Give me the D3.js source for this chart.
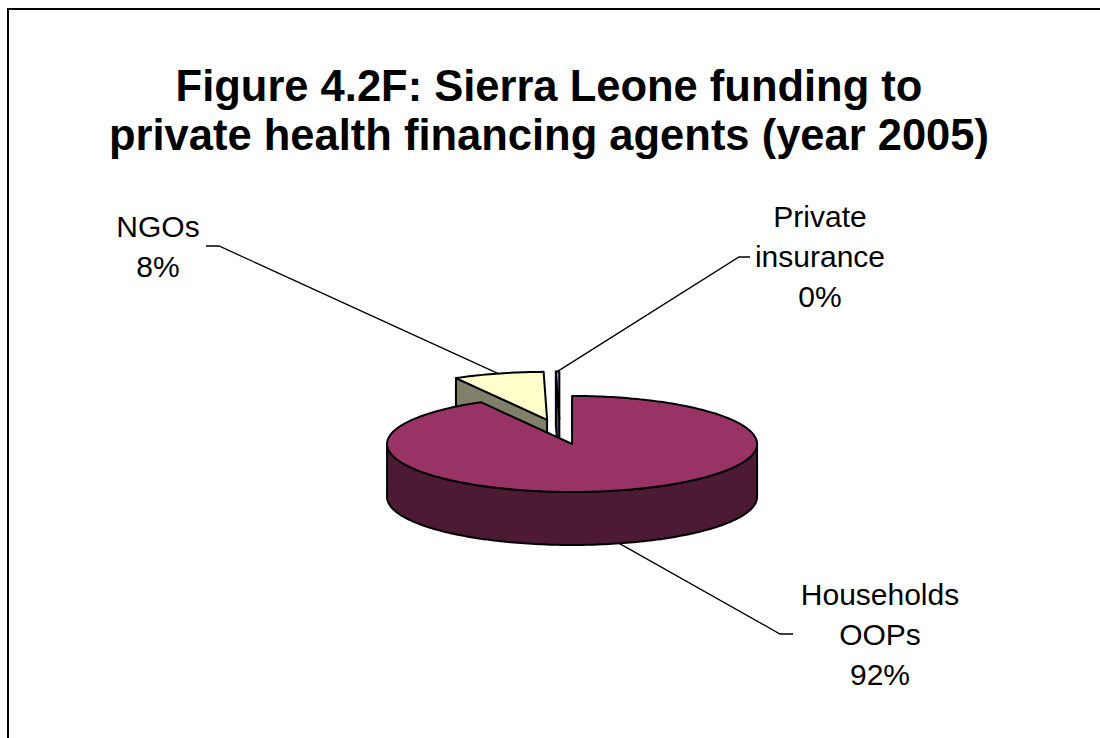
<!DOCTYPE html>
<html>
<head>
<meta charset="utf-8">
<script src="https://cdn.jsdelivr.net/npm/d3@7/dist/d3.min.js"></script>
<style>
  body { margin: 0; background: #ffffff; }
  svg { display: block; }
</style>
</head>
<body>
<svg id="chart" width="1100" height="738"></svg>
<script>
// ---- data ----
const titleLines = ["Figure 4.2F: Sierra Leone funding to", "private health financing agents (year 2005)"];
const categories = ["Households OOPs", "NGOs", "Private insurance"];
const labelLines = [["Households", "OOPs"], ["NGOs"], ["Private", "insurance"]];
const shares = [91.8, 7.9, 0.3];

// ---- styles ----
const topColors = ["#993366", "#FFFFCC", "#9999FF"];
const sideColors = ["#4D1A33", "#80806A", "#4D4D80"];
const fontFamily = "'Liberation Sans', Arial, Helvetica, sans-serif";

// ---- label layout: text centre, first baseline, leader elbow ----
const labelLayout = [
  { x: 880, y: 605, elbow: [[780, 634], [793, 634]] },
  { x: 158, y: 237, elbow: [[219, 246], [206, 246]] },
  { x: 820, y: 227, elbow: [[739, 257], [750, 257]] }
];

const svg = d3.select("#chart");

// outer chart frame (runs off the right and bottom edges)
svg.append("rect")
  .attr("x", 8).attr("y", 9)
  .attr("width", 1200).attr("height", 800)
  .attr("fill", "none").attr("stroke", "#000").attr("stroke-width", 2);

// title
svg.append("g").selectAll("text")
  .data(titleLines).join("text")
  .attr("x", 549)
  .attr("y", (d, i) => 101 + i * 49)
  .attr("text-anchor", "middle")
  .attr("font-family", fontFamily)
  .attr("font-weight", "bold")
  .attr("font-size", 43.5)
  .attr("fill", "#000")
  .text(d => d);

// ---- 3D pie geometry ----
const cx = 559.8, cy = 431.9, rx = 185, ry = 48, depth = 53, explode = 0.26;
const total = d3.sum(shares);
const pct = d3.format(".0%");

const arcs = d3.pie().sort(null).startAngle(0).endAngle(2 * Math.PI).value(d => d)(shares);

arcs.forEach(a => {
  a.mid = (a.startAngle + a.endAngle) / 2;
  a.off = [explode * rx * Math.sin(a.mid), -explode * ry * Math.cos(a.mid)];
});

function pt(a, angle, r, z) {
  return [cx + a.off[0] + r * rx * Math.sin(angle), cy + a.off[1] - r * ry * Math.cos(angle) + z];
}
function rim(a, from, to, z) {
  const n = Math.max(2, Math.ceil(Math.abs(to - from) / 0.02));
  return d3.range(n + 1).map(i => pt(a, from + (to - from) * i / n, 1, z));
}
const line = d3.line();

const pieG = svg.append("g")
  .attr("stroke", "#000").attr("stroke-width", 2).attr("stroke-linejoin", "round");

// paint from back to front
const order = arcs.slice().sort((p, q) => Math.cos(q.mid) - Math.cos(p.mid));

order.forEach(a => {
  const i = a.index;
  // radial cut faces
  [[a.startAngle, a.startAngle - Math.PI / 2], [a.endAngle, a.endAngle + Math.PI / 2]].forEach(([ang, normal]) => {
    if (Math.cos(normal) < -1e-6) {
      const quad = [pt(a, ang, 0, 0), pt(a, ang, 1, 0), pt(a, ang, 1, depth), pt(a, ang, 0, depth)];
      pieG.append("path").attr("d", line(quad) + "Z").attr("fill", sideColors[i]);
    }
  });
  // outer curved wall on the visible front half
  const s = Math.max(a.startAngle, Math.PI / 2), e = Math.min(a.endAngle, 3 * Math.PI / 2);
  if (s < e) {
    const wall = rim(a, s, e, 0).concat(rim(a, e, s, depth));
    pieG.append("path").attr("d", line(wall) + "Z").attr("fill", sideColors[i]);
  }
  // top face
  const top = [pt(a, a.startAngle, 0, 0)].concat(rim(a, a.startAngle, a.endAngle, 0));
  pieG.append("path").attr("d", line(top) + "Z").attr("fill", topColors[i]);
});

// ---- leader lines and labels ----
const labelG = svg.append("g");
arcs.forEach(a => {
  const i = a.index, L = labelLayout[i];
  const back = Math.cos(a.mid) > 0;
  const anchor = pt(a, a.mid, 1, back ? 0 : depth);
  labelG.append("path")
    .attr("d", line([anchor].concat(L.elbow)))
    .attr("fill", "none").attr("stroke", "#000").attr("stroke-width", 1.3);
  const lines = labelLines[i].concat([pct(shares[i] / total)]);
  labelG.append("g").selectAll("text")
    .data(lines).join("text")
    .attr("x", L.x)
    .attr("y", (d, k) => L.y + k * 40)
    .attr("text-anchor", "middle")
    .attr("font-family", fontFamily)
    .attr("font-size", 30)
    .attr("fill", "#000")
    .text(d => d);
});
</script>
</body>
</html>
